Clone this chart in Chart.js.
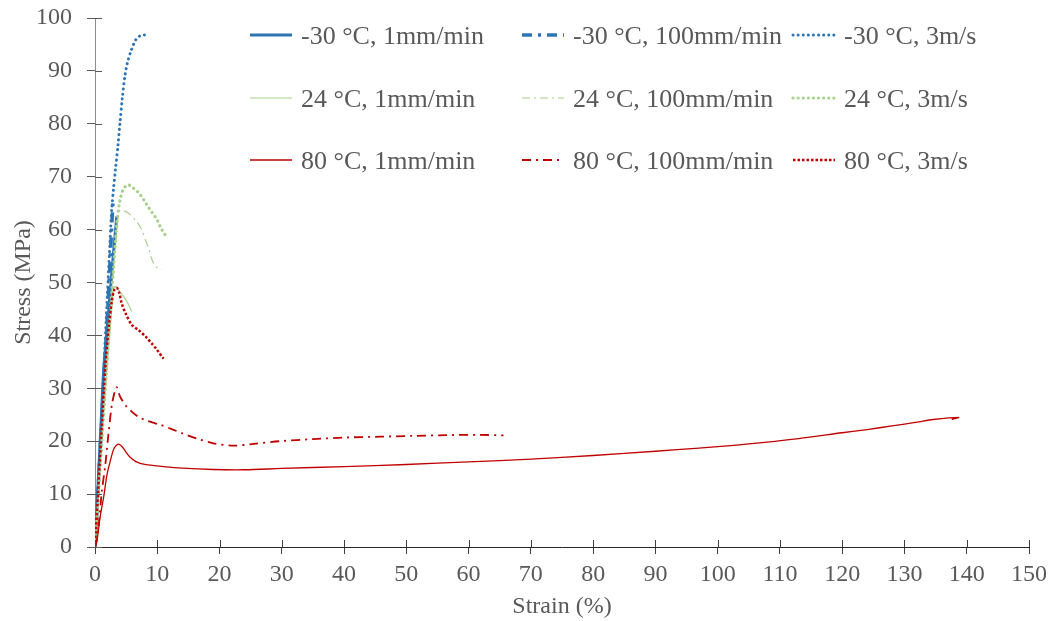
<!DOCTYPE html>
<html>
<head>
<meta charset="utf-8">
<script src="https://cdn.jsdelivr.net/npm/chart.js@4.4.1/dist/chart.umd.min.js"></script>
<style>
  html, body { margin: 0; padding: 0; background: #fff; }
  #wrap { width: 1051px; height: 621px; }
</style>
</head>
<body>
<div id="wrap"><canvas id="tensile"></canvas></div>
<script>
// strain (%) vs stress (MPa)
const m30Slow = [[0,0],[0.5,12],[1,24],[1.4,33.5],[2,42],[2.5,49],[3,56],[3.5,62.5]];
const m30Mid = [[0,0],[0.5,11],[1,22],[1.5,33],[2,44],[2.5,56],[2.9,65.5]];
const m30Fast = [[0,0],[0.4,9],[0.85,20],[1.3,31],[1.8,43],[2.3,55],[2.7,64],[3.0,68],[3.3,71.5],
  [3.7,76],[4.0,80],[4.4,85],[4.8,89],[5.2,91.5],[5.8,93.8],[6.5,95.8],[7.2,96.6],[8.0,96.8],[8.4,96.6]];

const r24Slow = [[0,0],[0.5,9],[1,18],[1.5,27],[2,35],[2.5,42],[2.8,46.5],[3.1,49.2],[3.6,48.8],
  [4.2,48],[4.8,47],[5.4,45.8],[5.9,44.5]];
const r24Mid = [[0,0],[0.5,9],[1,18],[1.5,27],[2,36],[2.5,45],[3,53],[3.5,60],[3.9,63.5],[4.5,63.6],
  [5.5,63],[6.5,61.8],[7.5,60],[8.1,58],[8.6,56.5],[9.1,54.5],[9.6,53.2],[10,52.8],[10.7,52.5]];
const r24Fast = [[0,0],[0.5,9],[1,18],[1.5,27],[2,36],[2.5,45],[3,53],[3.5,61],[4,65.5],[4.5,67.5],
  [5,68.3],[5.5,68.4],[6,68],[6.5,67.5],[7,67],[7.5,66.2],[8,65.3],[8.5,64.4],[9,63.5],[9.5,62.7],
  [10,61.8],[10.5,60.5],[11,59.5],[11.5,58.6]];

const h80Slow = [[0,0],[0.3,1],[0.8,5.5],[1.4,9.5],[1.9,13.5],[2.4,16],[3,18.5],[3.5,19.3],[3.9,19.4],
  [4.4,18.9],[5,17.9],[5.6,17],[6.5,16.2],[8,15.6],[11,15.2],[14,14.9],[19,14.65],[24,14.6],[30,14.85],
  [40,15.2],[50,15.6],[60,16.1],[70,16.6],[80,17.3],[90,18.1],[97,18.7],[105,19.5],[113,20.5],
  [120,21.6],[124,22.2],[128,22.9],[132,23.6],[134.6,24.1],[138.7,24.5],[137.6,24.1]];
const h80Mid = [[0,0],[0.3,1.5],[0.6,4.2],[1.1,10.5],[1.65,15.5],[2.2,21.8],[2.7,26.8],[3.2,29.5],
  [3.5,30.2],[4,28.5],[4.9,26.8],[5.9,25.6],[7,24.6],[8.5,23.8],[10.5,23.1],[12.5,22.2],[14,21.5],
  [16.4,20.5],[19,19.6],[22.2,19.15],[25.5,19.5],[29.7,20],[35,20.4],[40.4,20.7],[45.8,20.85],
  [51,21],[56.5,21.15],[61.8,21.2],[65.6,21.1]];
const h80Fast = [[0,0],[0.5,10.5],[1,21],[1.65,34],[2.2,41.5],[2.7,46.5],[3.1,48.6],[3.5,49],[3.9,48],
  [4.3,46],[4.9,44.2],[5.9,42],[7,41],[8.1,39.8],[9.1,38.5],[10,37.2],[11,35.6]];

const seriesNames = [
  '-30 °C, 1mm/min', '-30 °C, 100mm/min', '-30 °C, 3m/s',
  '24 °C, 1mm/min', '24 °C, 100mm/min', '24 °C, 3m/s',
  '80 °C, 1mm/min', '80 °C, 100mm/min', '80 °C, 3m/s'
];
const seriesData = [m30Slow, m30Mid, m30Fast, r24Slow, r24Mid, r24Fast, h80Slow, h80Mid, h80Fast];

const blue = '#2E75B6';
const green = '#A9D18E';
const red = '#C00000';
const textGray = '#595959';

const styles = [
  { color: blue, width: 3, dash: [], cap: 'butt' },
  { color: blue, width: 3.5, dash: [10, 6, 3, 6], cap: 'butt' },
  { color: blue, width: 3, dash: [0.1, 5], cap: 'round' },
  { color: green, width: 1.2, dash: [], cap: 'butt' },
  { color: green, width: 1.2, dash: [8, 4, 2, 4], cap: 'butt' },
  { color: green, width: 3.2, dash: [0.1, 5], cap: 'round' },
  { color: red, width: 1.3, dash: [], cap: 'butt' },
  { color: red, width: 1.8, dash: [9, 5, 2, 5], cap: 'butt' },
  { color: red, width: 2.5, dash: [2.5, 2], cap: 'butt' }
];

const datasets = seriesData.map((pts, i) => ({
  label: seriesNames[i],
  data: pts.map(p => ({ x: p[0], y: p[1] })),
  borderColor: styles[i].color,
  borderWidth: styles[i].width,
  borderDash: styles[i].dash,
  borderCapStyle: styles[i].cap,
  pointRadius: 0,
  tension: 0.3,
  fill: false,
  order: 9 - i
}));

// legend drawn inside the plot, 3 x 3 grid like the original
const legendCols = [250, 522, 793];
const legendRows = [35, 98, 160];

const insideLegend = {
  id: 'insideLegend',
  afterDraw(chart) {
    const c = chart.ctx;
    c.save();
    seriesNames.forEach((name, i) => {
      const x = legendCols[i % 3];
      const y = legendRows[Math.floor(i / 3)];
      const s = styles[i];
      c.beginPath();
      c.strokeStyle = s.color;
      c.lineWidth = s.width;
      c.setLineDash(s.dash);
      c.lineCap = s.cap;
      c.moveTo(x, y);
      c.lineTo(x + 42, y);
      c.stroke();
      c.setLineDash([]);
      c.fillStyle = textGray;
      c.font = '26px "Liberation Serif"';
      c.textBaseline = 'middle';
      c.textAlign = 'left';
      c.fillText(name, x + 51, y + 2);
    });
    c.restore();
  }
};

// tick marks that cross the axis line
const crossTicks = {
  id: 'crossTicks',
  afterDraw(chart) {
    const c = chart.ctx;
    const a = chart.chartArea;
    const xs = chart.scales.x, ys = chart.scales.y;
    c.save();
    c.lineWidth = 1;
    c.strokeStyle = '#404040';
    xs.ticks.forEach(t => {
      const px = Math.round(xs.getPixelForValue(t.value)) + 0.5;
      c.beginPath(); c.moveTo(px, a.bottom); c.lineTo(px, a.bottom - 7); c.stroke();
    });
    c.strokeStyle = '#595959';
    ys.ticks.forEach(t => {
      const py = Math.round(ys.getPixelForValue(t.value)) + 0.5;
      c.beginPath(); c.moveTo(a.left, py); c.lineTo(a.left + 7, py); c.stroke();
    });
    c.restore();
  }
};

Chart.defaults.font.family = '"Liberation Serif", "Times New Roman", serif';
Chart.defaults.font.size = 24;
Chart.defaults.color = textGray;

new Chart(document.getElementById('tensile'), {
  type: 'line',
  data: { datasets: datasets },
  options: {
    responsive: true,
    maintainAspectRatio: false,
    animation: false,
    layout: { padding: { top: 18, right: 22, left: 0, bottom: 0 } },
    plugins: {
      legend: { display: false },
      tooltip: { enabled: false }
    },
    scales: {
      x: {
        type: 'linear',
        min: 0,
        max: 150,
        afterFit: (scale) => {
          scale.height = 74;
          scale.paddingLeft = 0;
          scale.paddingRight = 0;
        },
        ticks: { stepSize: 10, autoSkip: false, maxRotation: 0, padding: 6 },
        grid: { display: true, drawOnChartArea: false, drawTicks: true, tickLength: 7, color: '#404040' },
        border: { color: '#262626', width: 1 },
        title: { display: true, text: 'Strain (%)', padding: { top: 0, bottom: 0 } }
      },
      y: {
        type: 'linear',
        min: 0,
        max: 100,
        afterFit: (scale) => {
          scale.width = 95;
          scale.paddingTop = 0;
          scale.paddingBottom = 0;
        },
        ticks: { stepSize: 10, autoSkip: false, padding: 15 },
        grid: { display: true, drawOnChartArea: false, drawTicks: true, tickLength: 8, color: '#595959' },
        border: { color: '#8c8c8c', width: 1 },
        title: { display: true, text: 'Stress (MPa)', padding: { top: 9, bottom: 0 } }
      }
    }
  },
  plugins: [insideLegend, crossTicks]
});
</script>
</body>
</html>
